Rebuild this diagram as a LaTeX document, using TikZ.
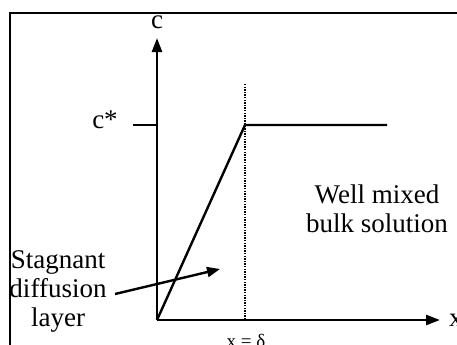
\documentclass[tikz,border=0pt]{standalone}
\usepackage{fontspec}
\setmainfont{Liberation Serif}
\usetikzlibrary{arrows.meta}
\begin{document}
\begin{tikzpicture}[x=1bp,y=-1bp,
  axis/.style={line width=2.4bp,-{Triangle[length=14bp,width=10bp]}},
  curve/.style={line width=2.4bp},
  lbl/.style={font=\fontsize{27bp}{29bp}\selectfont,inner sep=0pt,align=center},
  small/.style={font=\fontsize{19bp}{22bp}\selectfont,inner sep=0pt}]
\useasboundingbox (0,0) rectangle (457,344);
\begin{scope}
\clip (0,0) rectangle (457,344);
\draw[line width=1.6bp] (10,13) rectangle (480,370);
\coordinate (O) at (157,320);
\coordinate (ytop) at (157,38);
\coordinate (xend) at (440,320);
\coordinate (ticka) at (133,125);
\coordinate (tickb) at (157,125);
\coordinate (K) at (245,125);
\coordinate (Kend) at (387,125);
\coordinate (dtop) at (245,84);
\coordinate (dbot) at (245,320);
\draw[axis] (O) -- (ytop);
\draw[axis] (O) -- (xend);
\draw[curve] (ticka) -- (tickb);
\draw[curve] (O) -- (K) -- (Kend);
\draw[line width=1.5bp,dash pattern=on 1.3bp off 1.3bp] (dtop) -- (dbot);
\node[lbl,anchor=base] (cl) at (157,28) {c};
\node[lbl,anchor=base] (cs) at (105,128) {c*};
\node[lbl,anchor=west] (xl) at (449,320) {x};
\node[small,anchor=base] (xd) at (246,347) {x = δ};
\node[lbl] (bulk) at (377,209) {Well mixed\\bulk solution};
\node[lbl] (stag) at (58,291) {Stagnant\\diffusion\\layer};
\coordinate (arrs) at (115,294);
\coordinate (arre) at (220,269);
\draw[line width=2.4bp,-{Triangle[length=13bp,width=10bp]}] (arrs) -- (arre);
\end{scope}
\end{tikzpicture}
\end{document}
